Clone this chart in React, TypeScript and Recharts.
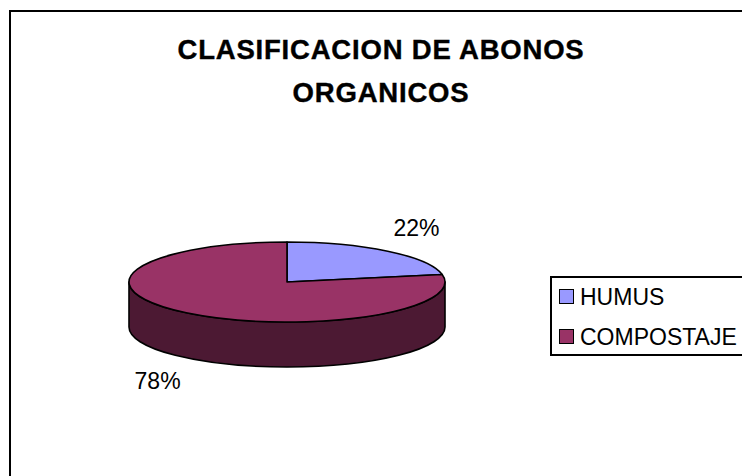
import React from 'react';
import { PieChart, Pie, Cell, Legend } from 'recharts';

const categories = ['HUMUS', 'COMPOSTAJE'];
const values = [22, 78];
const topColors = ['#9999FF', '#993366'];
const sideColors = ['#4C4C80', '#4C1933'];
const titleLines = ['CLASIFICACION DE ABONOS', 'ORGANICOS'];

const data = categories.map((name, i) => ({ name, value: values[i] }));

const FONT = '"Liberation Sans", Arial, sans-serif';
const TILT = 40 / 158;
const DEPTH = 45;

function pt(cx: number, cy: number, rx: number, ry: number, deg: number) {
  const r = (deg * Math.PI) / 180;
  return [cx + rx * Math.cos(r), cy - ry * Math.sin(r)];
}

function Slice3D(props: any) {
  const { cx, cy, outerRadius, startAngle, endAngle, fill } = props;
  const name = props.name ?? props.payload?.name;
  const idx = Math.max(0, categories.indexOf(name));
  const rx = outerRadius;
  const ry = outerRadius * TILT;
  const [x1, y1] = pt(cx, cy, rx, ry, startAngle);
  const [x2, y2] = pt(cx, cy, rx, ry, endAngle);
  const large = Math.abs(endAngle - startAngle) > 180 ? 1 : 0;
  const sweep = endAngle < startAngle ? 1 : 0;
  const top = `M${cx},${cy} L${x1},${y1} A${rx},${ry} 0 ${large} ${sweep} ${x2},${y2} Z`;

  const lo = Math.min(startAngle, endAngle);
  const hi = Math.max(startAngle, endAngle);
  const walls: string[] = [];
  for (let k = -2; k <= 2; k++) {
    const s = Math.max(lo, -180 + 360 * k);
    const e = Math.min(hi, 360 * k);
    if (e - s > 0.01) {
      const [sx, sy] = pt(cx, cy, rx, ry, s);
      const [ex, ey] = pt(cx, cy, rx, ry, e);
      walls.push(
        `M${sx},${sy} A${rx},${ry} 0 0 0 ${ex},${ey} L${ex},${ey + DEPTH} A${rx},${ry} 0 0 1 ${sx},${sy + DEPTH} Z`
      );
    }
  }
  return (
    <g>
      {walls.map((d, i) => (
        <path key={i} d={d} fill={sideColors[idx]} stroke="#000" strokeWidth={1.6} strokeLinejoin="round" />
      ))}
      <path d={top} fill={fill} stroke="#000" strokeWidth={1.6} strokeLinejoin="round" />
    </g>
  );
}

const renderLabel = (p: any) => {
  const { cx, cy, midAngle, outerRadius, percent } = p;
  const r = (midAngle * Math.PI) / 180;
  const s = Math.sin(r);
  const x = cx + outerRadius * 1.285 * Math.cos(r);
  const y = cy - outerRadius * TILT * 1.75 * s + (s < 0 ? DEPTH : 0) + 8;
  return (
    <text x={x} y={y} textAnchor="middle" fontFamily={FONT} fontSize={23} fill="#000">
      {`${Math.round(percent * 100)}%`}
    </text>
  );
};

const renderLegend = (props: any) => {
  const payload = [...(props.payload || [])].sort(
    (a: any, b: any) => categories.indexOf(a.value) - categories.indexOf(b.value)
  );
  return (
    <svg width={220} height={82} style={{ display: 'block' }}>
      <rect x={1} y={1} width={240} height={78} fill="#fff" stroke="#000" strokeWidth={2} />
      {payload.map((item: any, i: number) => (
        <g key={i}>
          <rect x={9.5} y={13.5 + i * 40} width={14} height={14} fill={item.color} stroke="#000" strokeWidth={1} />
          <text x={30} y={29 + i * 40} fontFamily={FONT} fontSize={23} fill="#000">
            {item.value}
          </text>
        </g>
      ))}
    </svg>
  );
};

export default function App() {
  return (
    <div style={{ position: 'absolute', left: 0, top: 0, width: 742, height: 476, overflow: 'hidden', background: '#fff' }}>
      <svg width={742} height={476} style={{ position: 'absolute', left: 0, top: 0 }}>
        <rect x={10} y={11} width={800} height={600} fill="#fff" stroke="#000" strokeWidth={2} />
        {titleLines.map((t, i) => (
          <text
            key={i}
            x={381}
            y={59 + i * 43}
            textAnchor="middle"
            fontFamily={FONT}
            fontWeight="bold"
            fontSize={27.5}
            letterSpacing={0.8}
            stroke="#000"
            strokeWidth={0.4}
            fill="#000"
          >
            {t}
          </text>
        ))}
      </svg>
      <PieChart width={742} height={476} margin={{ top: 0, right: 0, bottom: 0, left: 0 }}>
        <Pie
          data={data}
          dataKey="value"
          nameKey="name"
          cx={287}
          cy={282}
          outerRadius={158}
          startAngle={90}
          endAngle={-270}
          stroke="#000"
          isAnimationActive={false}
          labelLine={false}
          label={renderLabel}
          shape={Slice3D}
          activeShape={Slice3D}
          inactiveShape={Slice3D}
        >
          {data.map((d, i) => (
            <Cell key={d.name} fill={topColors[i]} />
          ))}
        </Pie>
        <Legend
          content={renderLegend}
          wrapperStyle={{ position: 'absolute', left: 550, top: 276, width: 220, height: 82 }}
        />
      </PieChart>
    </div>
  );
}
